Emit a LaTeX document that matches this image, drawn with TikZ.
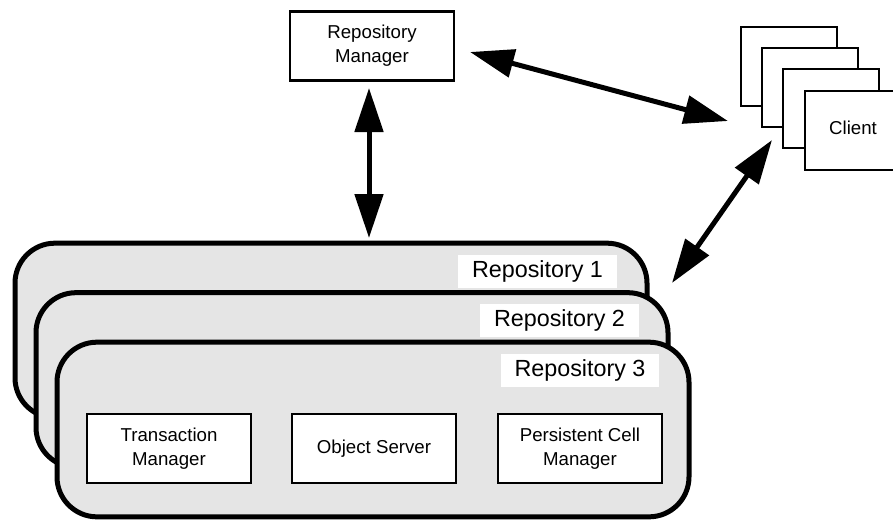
\documentclass[tikz,border=0pt]{standalone}
\usepackage{fontspec}
\setmainfont{Liberation Sans}
\usetikzlibrary{arrows.meta}
\tikzset{
  smallbox/.style={draw=black, line width=1.9pt, fill=white, inner sep=0pt,
    minimum width=123pt, minimum height=51.5pt, align=center,
    font=\fontsize{14}{18}\selectfont},
  clientbox/.style={draw=black, line width=1.9pt, fill=white, inner sep=0pt,
    minimum width=72pt, minimum height=59pt, align=center,
    font=\fontsize{14}{18}\selectfont},
  repobox/.style={draw=black, line width=3.75pt, fill=black!10, inner sep=0pt,
    rounded corners=30pt, minimum width=474pt, minimum height=131pt},
  repolabel/.style={fill=white, inner sep=0pt, minimum width=119pt,
    minimum height=25pt, font=\fontsize{17.5}{21}\selectfont},
  bigarrow/.style={line width=3.75pt,
    {Triangle[length=33pt, width=21pt]}-{Triangle[length=33pt, width=21pt]}}
}
\begin{document}
\begin{tikzpicture}[x=0.75pt, y=-0.75pt]
\clip (0,0) rectangle (893,519);
\fill[white] (0,0) rectangle (893,519);

% Repository Manager
\node[smallbox] (rm) at (372,46) {Repository\\Manager};

% Clients
\node[clientbox] (c1) at (789,66.5) {};
\node[clientbox] (c2) at (810,87.5) {};
\node[clientbox] (c3) at (831,108.5) {};
\node[clientbox] (c4) at (853,130.5) {};
\node[font=\fontsize{14}{18}\selectfont] (ct) at (853,128) {Client};

% Repositories
\node[repobox] (r1) at (331,330.5) {};
\node[repolabel] (l1) at (537.5,271.5) {Repository 1};
\node[repobox] (r2) at (352,380) {};
\node[repolabel] (l2) at (559.5,320.5) {Repository 2};
\node[repobox] (r3) at (373,429.5) {};
\node[repolabel] (l3) at (580,370.5) {Repository 3};

% Inner components
\node[smallbox] (tm) at (169,448.5) {Transaction\\Manager};
\node[smallbox] (os) at (374,448.5) {Object Server};
\node[smallbox] (pc) at (580,448.5) {Persistent Cell\\Manager};

% Arrow end points
\coordinate (a1s) at (369,88);
\coordinate (a1e) at (369,238);
\coordinate (a2s) at (470,52);
\coordinate (a2e) at (728,121);
\coordinate (a3s) at (772,140);
\coordinate (a3e) at (672,283);

\draw[bigarrow] (a1s) -- (a1e);
\draw[bigarrow] (a2s) -- (a2e);
\draw[bigarrow] (a3s) -- (a3e);
\end{tikzpicture}
\end{document}
